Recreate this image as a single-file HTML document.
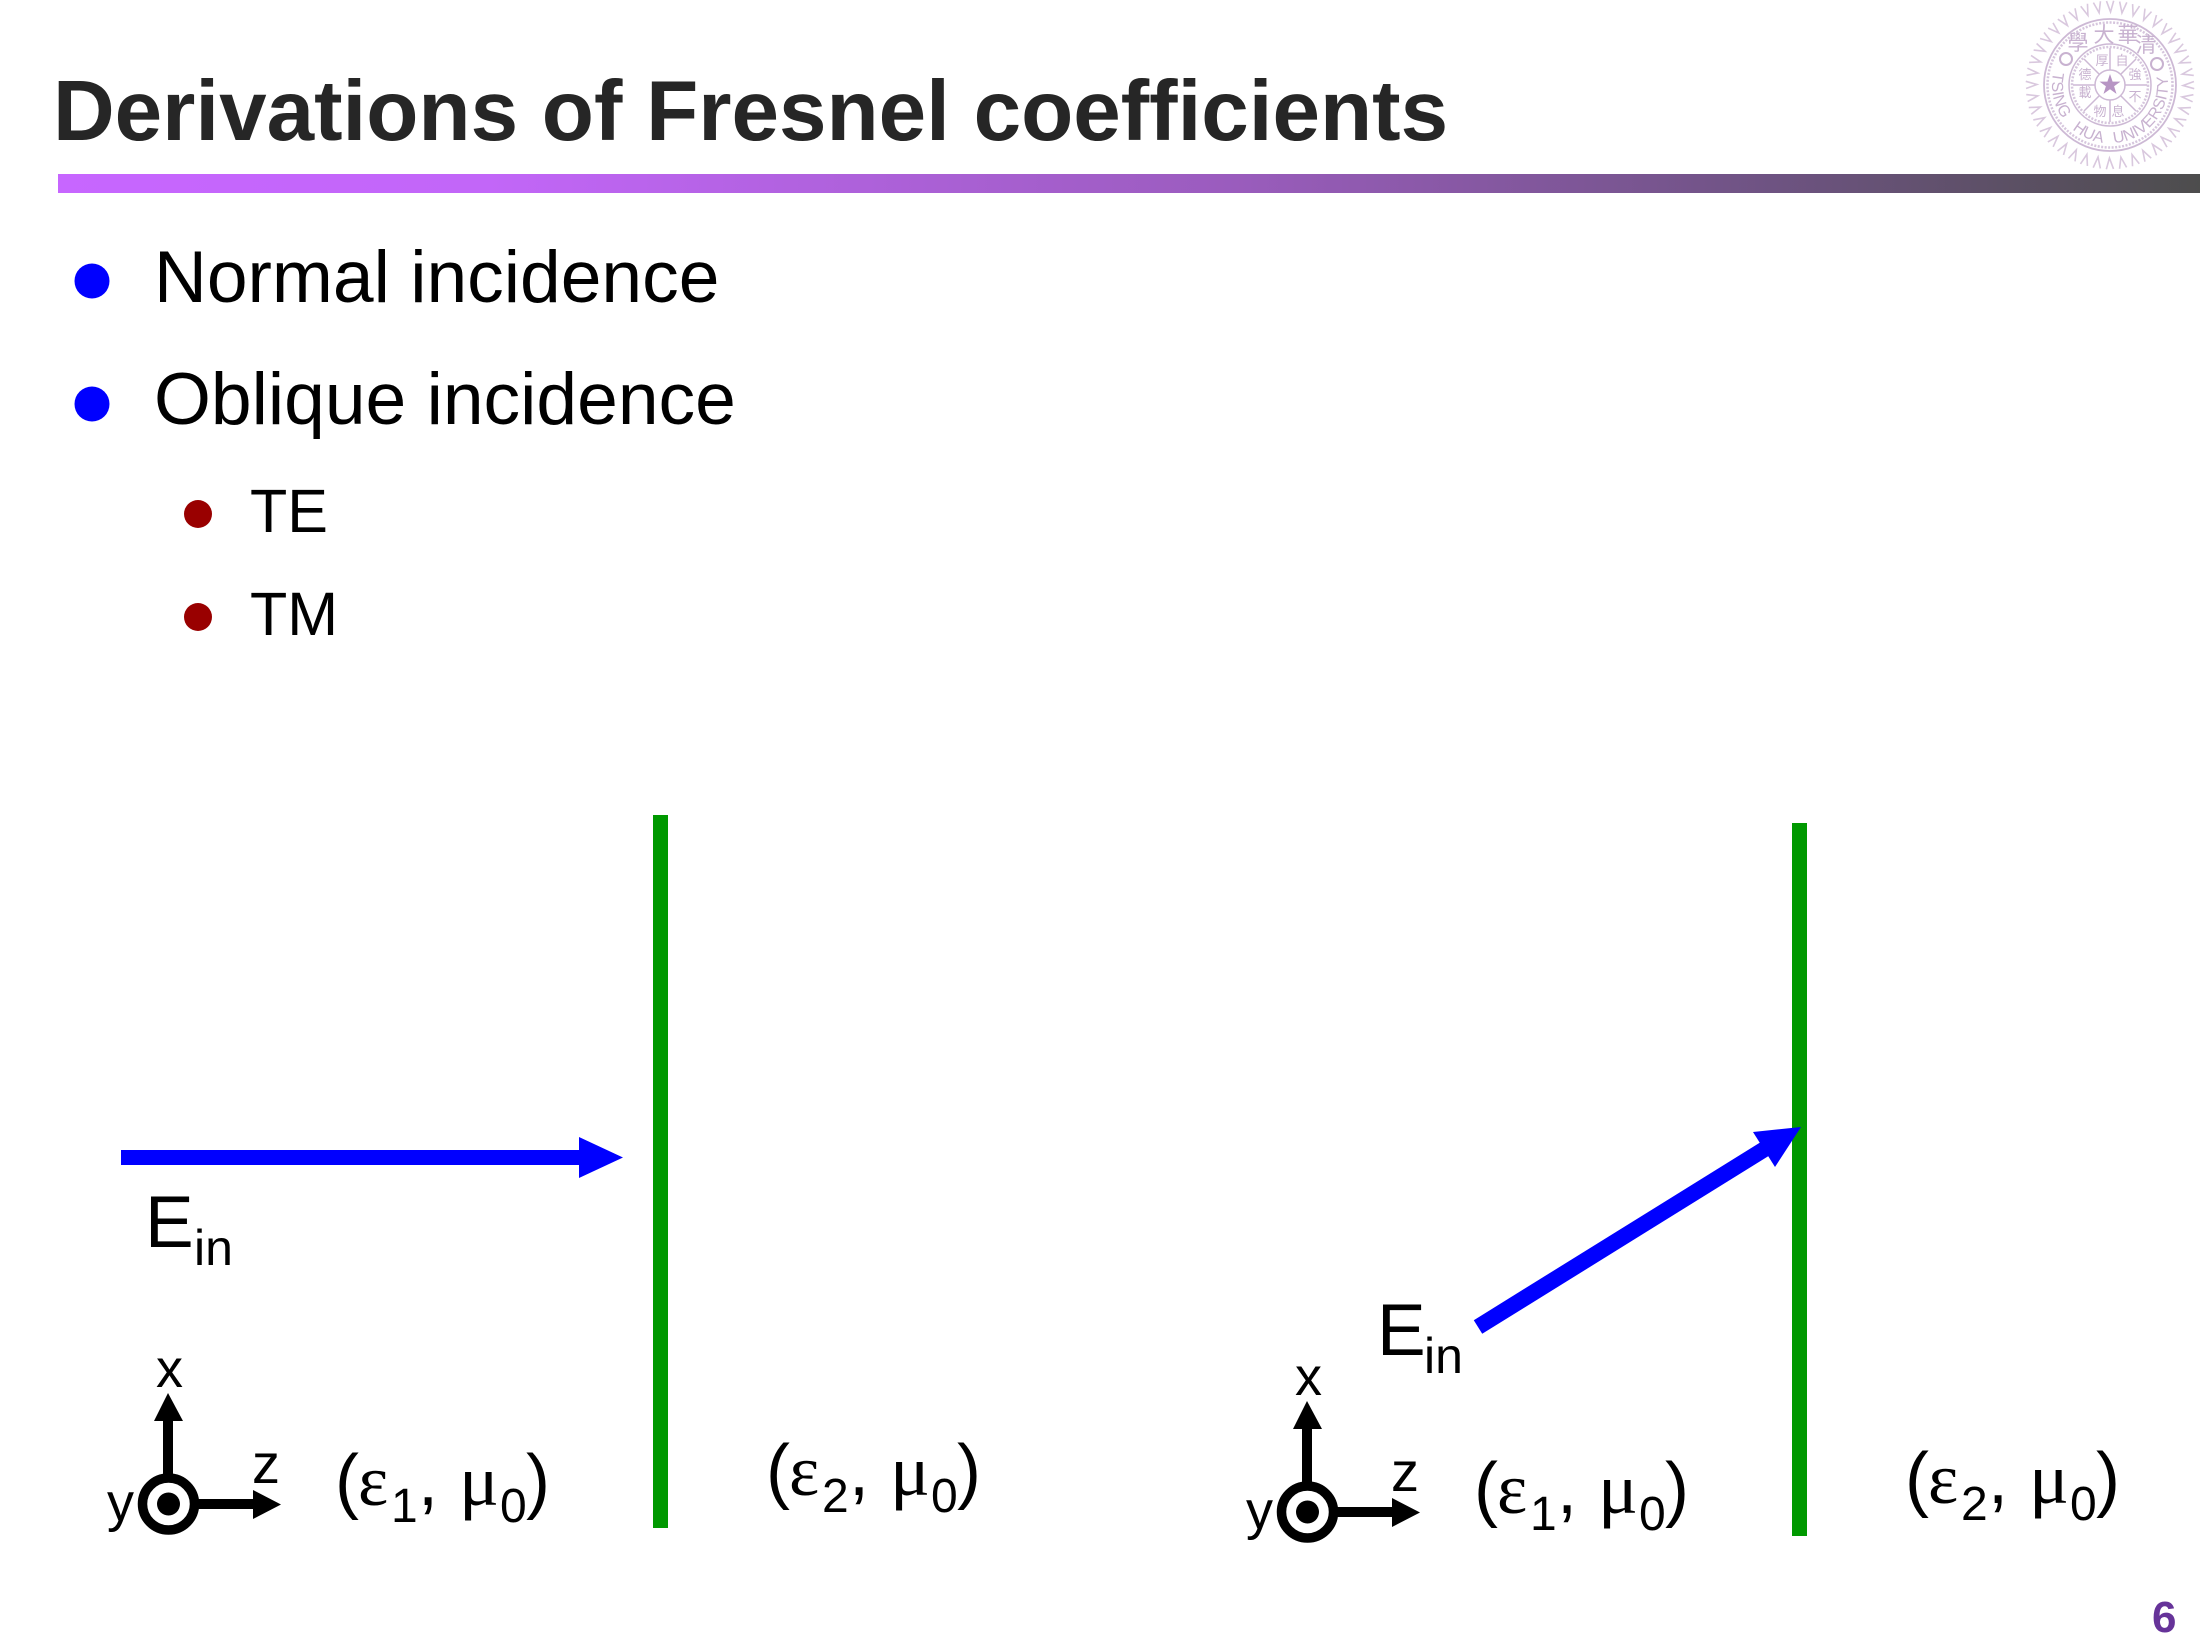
<!DOCTYPE html>
<html><head><meta charset="utf-8"><title>Derivations of Fresnel coefficients</title>
<style>
html,body{margin:0;padding:0;background:#fff;width:2200px;height:1650px;overflow:hidden}
svg{display:block}
text{font-family:"Liberation Sans",sans-serif}
.s{font-family:"Liberation Serif",serif}
</style></head><body>
<svg width="2200" height="1650" viewBox="0 0 2200 1650" xmlns="http://www.w3.org/2000/svg">
<defs>
<linearGradient id="bar" x1="0" x2="1" y1="0" y2="0">
<stop offset="0" stop-color="#C766FF"/><stop offset=".2" stop-color="#C266F8"/><stop offset=".55" stop-color="#9A5CBD"/><stop offset=".8" stop-color="#6E5382"/><stop offset="1" stop-color="#4D4D4D"/>
</linearGradient>
<path id="v" d="M0,-84 L3.6,-73 L7.2,-84" transform="rotate(-2.4)" fill="none" stroke="#d9c8de" stroke-width="1.6"/>
<g id="v2"><use href="#v"/><use href="#v" transform="rotate(9)"/></g>
<g id="v4"><use href="#v2"/><use href="#v2" transform="rotate(18)"/></g>
<g id="v8"><use href="#v4"/><use href="#v4" transform="rotate(36)"/></g>
<path id="arcB" d="M-56.5,-13 A58,58 0 1 0 56.5,-13" fill="none"/>
<g id="axes">
<rect x="163" y="1418" width="10" height="60"/>
<polygon points="168,1393 154,1421 183,1421"/>
<rect x="195" y="1499" width="60" height="10"/>
<polygon points="281,1504.5 253,1490 253,1519"/>
<circle cx="168.5" cy="1504" r="26" fill="#fff" stroke="#000" stroke-width="9.5"/>
<circle cx="168.5" cy="1504" r="11.5"/>
<text x="156" y="1387" font-size="54">x</text>
<text x="252" y="1483" font-size="56">z</text>
<text x="107" y="1521" font-size="54">y</text>
</g>
</defs>

<!-- Title -->
<text x="53" y="140" font-size="85.4" font-weight="bold" fill="#262626">Derivations of Fresnel coefficients</text>
<rect x="58" y="174" width="2142" height="19" fill="url(#bar)"/>

<!-- Seal -->
<g transform="translate(2110,85)" fill="#c8b2d0">
<use href="#v8"/><use href="#v8" transform="rotate(72)"/><use href="#v8" transform="rotate(144)"/><use href="#v8" transform="rotate(216)"/><use href="#v8" transform="rotate(288)"/>
<circle r="66" fill="none" stroke="#cdb9d5" stroke-width="1.8"/>
<circle r="62.5" fill="none" stroke="#d6c6dd" stroke-width="2.5" stroke-dasharray="2 1.5"/>
<circle r="41" fill="none" stroke="#cdb9d5" stroke-width="1.5"/>
<circle r="38" fill="none" stroke="#d6c6dd" stroke-width="2.5" stroke-dasharray="2 1.5"/>
<circle r="15" fill="none" stroke="#cdb9d5" stroke-width="1.5"/>
<g stroke="#cdb9d5" stroke-width="1.5">
<line x1="15" y1="0" x2="37" y2="0"/><line x1="-15" y1="0" x2="-37" y2="0"/><line x1="0" y1="15" x2="0" y2="37"/><line x1="0" y1="-15" x2="0" y2="-37"/>
<line x1="11" y1="11" x2="26" y2="26"/><line x1="-11" y1="11" x2="-26" y2="26"/><line x1="11" y1="-11" x2="26" y2="-26"/><line x1="-11" y1="-11" x2="-26" y2="-26"/>
</g>
<polygon fill="#b795c4" points="0,-11 2.6,-3.4 10.5,-3.4 4.1,1.3 6.5,8.9 0,4.2 -6.5,8.9 -4.1,1.3 -10.5,-3.4 -2.6,-3.4"/>
<circle cx="-44" cy="-26" r="6" fill="none" stroke="#c8b2d0" stroke-width="2"/>
<circle cx="47" cy="-21" r="6" fill="none" stroke="#c8b2d0" stroke-width="2"/>
<g font-size="21" text-anchor="middle" style="font-family:'Liberation Sans','Noto Sans CJK TC',sans-serif">
<text x="-32" y="-35">學</text><text x="-6" y="-43">大</text><text x="18" y="-43">華</text><text x="36" y="-33">清</text>
</g>
<g font-size="13" text-anchor="middle" style="font-family:'Liberation Sans','Noto Sans CJK TC',sans-serif">
<text x="-8" y="-20">厚</text><text x="12" y="-20">自</text><text x="-25" y="-6">德</text><text x="25" y="-6">強</text><text x="-25" y="12">載</text><text x="25" y="16">不</text><text x="-10" y="31">物</text><text x="8" y="31">息</text>
</g>
<text font-size="16"><textPath href="#arcB" startOffset="0">TSING</textPath></text>
<text font-size="16"><textPath href="#arcB" startOffset="63">HUA</textPath></text>
<text font-size="16"><textPath href="#arcB" startOffset="108">UNIVERSITY</textPath></text>
</g>

<!-- Bullets -->
<circle cx="92" cy="281" r="17.5" fill="#0000FF"/>
<circle cx="92" cy="404" r="17.5" fill="#0000FF"/>
<text x="154" y="302" font-size="73.2">Normal incidence</text>
<text x="154" y="424" font-size="73.2">Oblique incidence</text>
<circle cx="198" cy="514" r="14" fill="#990000"/>
<circle cx="198" cy="617" r="14" fill="#990000"/>
<text x="250" y="532" font-size="61">TE</text>
<text x="250" y="635" font-size="61">TM</text>

<!-- Left group -->
<rect x="653" y="815" width="15" height="713" fill="#009900"/>
<rect x="121" y="1150" width="462" height="15" fill="#0000FF"/>
<polygon points="623,1157.5 579,1137 579,1178" fill="#0000FF"/>
<text x="145" y="1247" font-size="73">E</text>
<text x="194" y="1265" font-size="50">in</text>
<use href="#axes"/>
<g>
<text x="335" y="1505" font-size="72">(</text>
<text class="s" x="358" y="1505" font-size="72">ε</text>
<text x="391" y="1522" font-size="48">1</text>
<text x="418" y="1505" font-size="72">,</text>
<text class="s" x="459" y="1505" font-size="72" textLength="40" lengthAdjust="spacingAndGlyphs">μ</text>
<text x="500" y="1522" font-size="48">0</text>
<text x="526" y="1505" font-size="72">)</text>
</g>
<g transform="translate(431,-10)">
<text x="335" y="1505" font-size="72">(</text>
<text class="s" x="358" y="1505" font-size="72">ε</text>
<text x="391" y="1522" font-size="48">2</text>
<text x="418" y="1505" font-size="72">,</text>
<text class="s" x="459" y="1505" font-size="72" textLength="40" lengthAdjust="spacingAndGlyphs">μ</text>
<text x="500" y="1522" font-size="48">0</text>
<text x="526" y="1505" font-size="72">)</text>
</g>

<!-- Right group -->
<rect x="1792" y="823" width="15" height="713" fill="#009900"/>
<line x1="1478" y1="1327" x2="1768" y2="1147" stroke="#0000FF" stroke-width="16"/>
<polygon points="1801,1127 1753,1132 1775,1167" fill="#0000FF"/>
<text x="1377" y="1355" font-size="73">E</text>
<text x="1424" y="1373" font-size="50">in</text>
<g transform="translate(1139,8)">
<use href="#axes"/>
<text x="335" y="1505" font-size="72">(</text>
<text class="s" x="358" y="1505" font-size="72">ε</text>
<text x="391" y="1522" font-size="48">1</text>
<text x="418" y="1505" font-size="72">,</text>
<text class="s" x="459" y="1505" font-size="72" textLength="40" lengthAdjust="spacingAndGlyphs">μ</text>
<text x="500" y="1522" font-size="48">0</text>
<text x="526" y="1505" font-size="72">)</text>
<g transform="translate(431,-10)">
<text x="335" y="1505" font-size="72">(</text>
<text class="s" x="358" y="1505" font-size="72">ε</text>
<text x="391" y="1522" font-size="48">2</text>
<text x="418" y="1505" font-size="72">,</text>
<text class="s" x="459" y="1505" font-size="72" textLength="40" lengthAdjust="spacingAndGlyphs">μ</text>
<text x="500" y="1522" font-size="48">0</text>
<text x="526" y="1505" font-size="72">)</text>
</g>
</g>

<!-- Page number -->
<text x="2152" y="1632" font-size="44" font-weight="bold" fill="#663399">6</text>
</svg>
</body></html>
